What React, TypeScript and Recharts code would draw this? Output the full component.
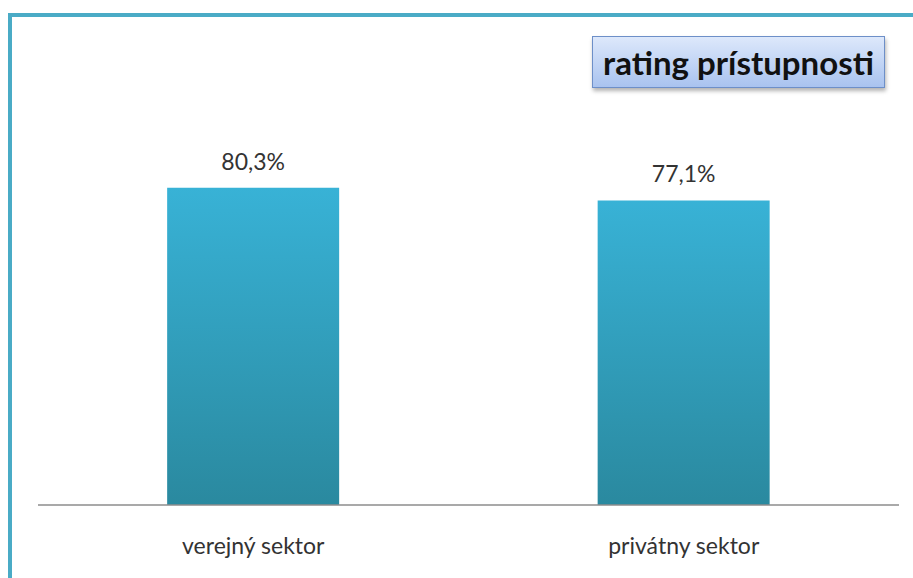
import { Bar, BarChart, LabelList, XAxis, YAxis } from "recharts";

const categories = ["verejný sektor", "privátny sektor"];
const ratings = [80.3, 77.1];
const title = "rating prístupnosti";

const data = categories.map((name, i) => ({ name, rating: ratings[i] }));

const FONT = "Lato, 'Open Sans', sans-serif";

export default function App() {
  return (
    <div
      style={{
        position: "absolute",
        left: 0,
        top: 0,
        width: 913,
        height: 578,
        background: "#fff",
        overflow: "hidden",
        fontFamily: FONT,
      }}
    >
      <div
        style={{
          position: "absolute",
          left: 8,
          top: 13,
          width: 905,
          height: 565,
          borderLeft: "4px solid #4aabc6",
          borderTop: "4px solid #4aabc6",
          boxSizing: "border-box",
        }}
      />
      <BarChart
        width={913}
        height={578}
        data={data}
        margin={{ top: 110, right: 14, left: 38, bottom: 23 }}
        barCategoryGap="30%"
      >
        <defs>
          <linearGradient id="barFill" x1="0" y1="0" x2="0" y2="1">
            <stop offset="0%" stopColor="#38b2d6" />
            <stop offset="100%" stopColor="#2a899f" />
          </linearGradient>
        </defs>
        <XAxis
          dataKey="name"
          height={50}
          axisLine={{ stroke: "#8c8c8c", strokeWidth: 1.5 }}
          tickLine={false}
          tickMargin={27}
          tick={{ fill: "#333", fontSize: 23, fontFamily: FONT }}
        />
        <YAxis hide domain={[0, 100]} />
        <Bar dataKey="rating" fill="url(#barFill)" isAnimationActive={false}>
          <LabelList
            dataKey="rating"
            position="top"
            offset={18}
            formatter={(v: number) => `${v.toFixed(1).replace(".", ",")}%`}
            style={{ fill: "#333", fontSize: 23, fontFamily: FONT }}
          />
        </Bar>
      </BarChart>
      <div
        style={{
          position: "absolute",
          left: 592,
          top: 36,
          width: 293,
          height: 52,
          boxSizing: "border-box",
          border: "1.5px solid #6d8fc8",
          background: "linear-gradient(#dde8fb, #a9c3ef)",
          boxShadow: "1px 3px 4px rgba(0,0,0,0.3)",
          display: "flex",
          alignItems: "center",
          justifyContent: "center",
          fontWeight: 700,
          fontSize: 33,
          color: "#111",
          fontFamily: FONT,
          whiteSpace: "nowrap",
        }}
      >
        {title}
      </div>
    </div>
  );
}
